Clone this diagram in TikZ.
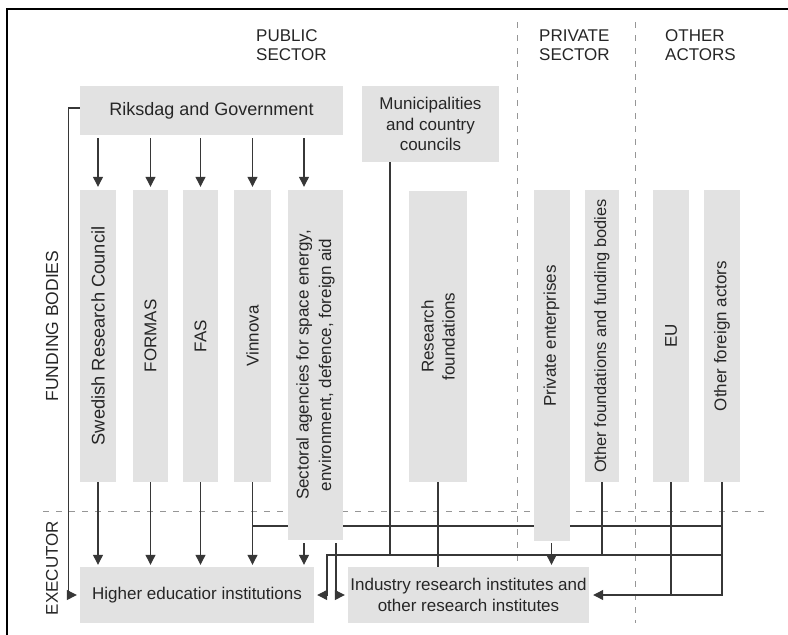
\documentclass[tikz,border=0pt]{standalone}
\usepackage{fontspec}
\setmainfont{Liberation Sans}
\usetikzlibrary{arrows.meta,backgrounds}

\definecolor{boxgray}{RGB}{226,226,226}
\definecolor{linegray}{RGB}{55,55,55}
\definecolor{dashgray}{RGB}{150,150,150}

\begin{document}
\begin{tikzpicture}[x=1pt, y=-1pt,
    every node/.style={font=\fontsize{17}{20.5}\selectfont, text=black!85},
    box/.style={rectangle, fill=boxgray, inner sep=0pt},
    vtext/.style={rotate=90, align=center, inner sep=0pt},
    head/.style={anchor=west, align=left, inner sep=0pt, font=\fontsize{17}{19}\selectfont},
    conn/.style={draw=linegray, line width=1.2pt},
    arr/.style={conn, -{Triangle[length=10pt,width=10pt]}},
    sep/.style={draw=dashgray, line width=1pt, dash pattern=on 6pt off 7pt}]
    \useasboundingbox (0,0) rectangle (788,635);
    % Place nodes
    \node [head] (pub) at (256,45) {PUBLIC\\SECTOR};
    \node [head] (pri) at (539,45) {PRIVATE\\SECTOR};
    \node [head] (oth) at (665,45) {OTHER\\ACTORS};
    \node [vtext, font=\fontsize{17.5}{20}\selectfont] (fund) at (52,326) {FUNDING BODIES};
    \node [vtext] (exe) at (52,568) {EXECUTOR};

    \node [box, minimum width=263pt, minimum height=49pt, font=\fontsize{18}{20}\selectfont] (gov) at (211.5,110.5) {Riksdag and Government};
    \node [box, minimum width=137pt, minimum height=76pt, align=center] (mun) at (430.5,124) {Municipalities\\and country\\councils};

    \node [box, minimum width=36pt, minimum height=292pt] (src) at (98,336) {};
    \node [box, minimum width=35pt, minimum height=292pt] (formas) at (150.5,336) {};
    \node [box, minimum width=35pt, minimum height=292pt] (fas) at (200.5,336) {};
    \node [box, minimum width=37pt, minimum height=292pt] (vin) at (252.5,336) {};
    \node [box, minimum width=55pt, minimum height=350pt] (sec) at (315.5,365) {};
    \node [box, minimum width=58pt, minimum height=291pt] (resf) at (438,336.5) {};
    \node [box, minimum width=36pt, minimum height=351pt] (priv) at (551.5,365.5) {};
    \node [box, minimum width=34pt, minimum height=292pt] (othf) at (602,336) {};
    \node [box, minimum width=36pt, minimum height=292pt] (eu) at (671,336) {};
    \node [box, minimum width=36pt, minimum height=292pt] (othfa) at (722,336) {};

    \node [vtext, font=\fontsize{18.3}{20}\selectfont] (srct) at (src) {Swedish Research Council};
    \node [vtext] (formast) at (formas) {FORMAS};
    \node [vtext] (fast) at (fas) {FAS};
    \node [vtext] (vint) at (vin) {Vinnova};
    \node [vtext, font=\fontsize{17}{22.5}\selectfont] (sect) at (sec) {Sectoral agencies for space energy,\\environment, defence, foreign aid};
    \node [vtext, font=\fontsize{17}{21}\selectfont] (resft) at (resf) {Research\\foundations};
    \node [vtext] (privt) at (priv |- src) {Private enterprises};
    \node [vtext, font=\fontsize{16.4}{20}\selectfont] (othft) at (othf) {Other foundations and funding bodies};
    \node [vtext] (eut) at (eu) {EU};
    \node [vtext] (othfat) at (othfa) {Other foreign actors};

    \node [box, minimum width=234pt, minimum height=56pt] (hei) at (197,595) {Higher educatior institutions};
    \node [box, minimum width=241pt, minimum height=56pt, align=center] (ind) at (468.5,595) {Industry research institutes and\\other research institutes};

    \coordinate (sectop) at ([xshift=-11.5pt]sec.north);
    \coordinate (secbot) at ([xshift=-11.5pt]sec.south);
    \coordinate (secind) at ([xshift=20.5pt]sec.south);
    \coordinate (munout) at ([xshift=-40.5pt]mun.south);
    \coordinate (govout) at ([yshift=2.5pt]gov.west);
    \coordinate (busa) at (0,526);
    \coordinate (busb) at (327,555);

    \begin{scope}[on background layer]
    % Frame and sectors
    \path[draw, line width=1.5pt] (7,635) -- (7,9) -- (788,9);
    \path[sep] (517,22) -- (517,600);
    \path[sep] (635,22) -- (635,623);
    \path[sep] (43,511) -- (767,511);
    % Draw edges
    \foreach \n in {src,formas,fas,vin} {
        \path[arr, shorten <=3pt, shorten >=3pt] (\n.north |- gov.south) -- (\n.north);
        \path[arr, shorten >=2pt] (\n.south) -- (\n.south |- hei.north);
    }
    \path[arr, shorten <=3pt, shorten >=3pt] (sectop |- gov.south) -- (sectop);
    \path[arr, shorten <=3pt, shorten >=2pt] (secbot) -- (secbot |- hei.north);
    \path[arr, shorten <=3pt, shorten >=3pt] (secind) |- (ind.west);
    \path[arr, shorten >=3pt] (govout) -- ++(-11,0) |- (hei.west);
    \path[conn] (vin.south |- busa) -- (othfa.south |- busa);
    \path[conn] (munout) -- (munout |- busb);
    \path[conn] (resf.south) -- (resf.south |- ind.north);
    \path[arr, shorten <=2pt, shorten >=2pt] (priv.south) -- (priv.south |- ind.north);
    \path[conn] (othf.south) -- (othf.south |- busb);
    \path[conn] (eu.south) -- (eu.south |- ind.east);
    \path[arr, shorten >=4pt] (othfa.south) |- (ind.east);
    \path[arr, shorten >=3pt] (othfa.south |- busb) -- (busb) |- (hei.east);
    \end{scope}
\end{tikzpicture}
\end{document}
